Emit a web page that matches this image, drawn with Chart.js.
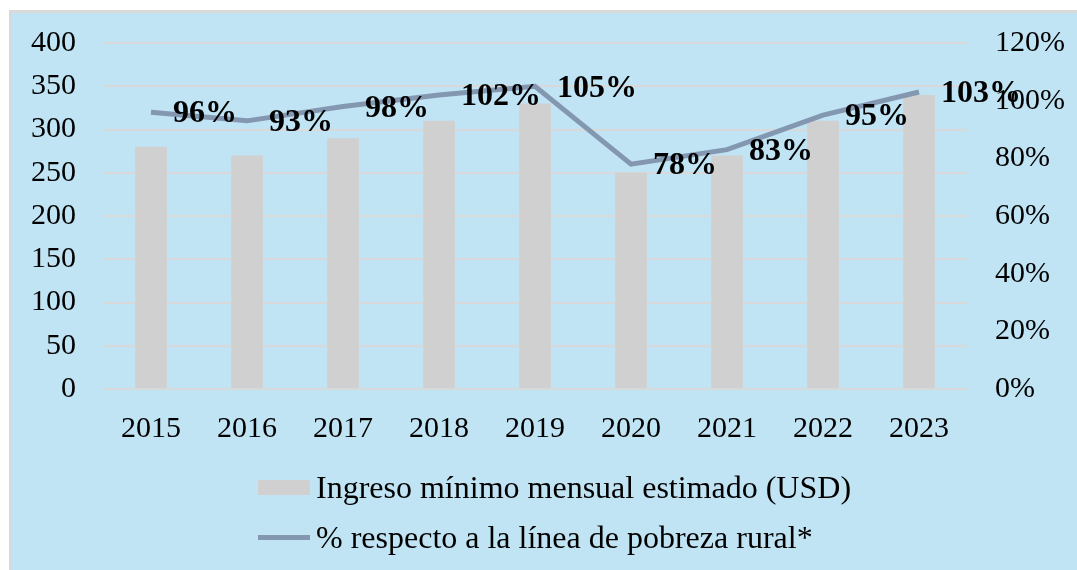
<!DOCTYPE html>
<html>
<head>
<meta charset="utf-8">
<script src="https://cdn.jsdelivr.net/npm/chart.js@4/dist/chart.umd.min.js"></script>
<style>
  html, body { margin: 0; padding: 0; background: #fff; }
  #frame {
    position: absolute; left: 9px; top: 10px;
    width: 1065px; height: 557px;
    background: #c0e4f4;
    border-left: 3px solid #d9d9d9; border-top: 3px solid #d9d9d9;
  }
  #chartBox { position: absolute; left: 0; top: 0; width: 1065px; height: 557px; }
  #legend {
    position: absolute; left: 246px; top: 449px;
    font-family: "Liberation Serif", "Times New Roman", serif; font-size: 32px; color: #000;
  }
  .item { display: flex; align-items: center; height: 50px; }
  .swatch { width: 52px; margin-right: 6px; }
  .bar-sw { height: 15px; background: #d0d0d0; }
  .line-sw { height: 5px; background: #8497b0; }
</style>
</head>
<body>
<div id="frame">
  <div id="chartBox"><canvas id="chart"></canvas></div>
  <div id="legend"></div>
</div>
<script>
  const years = ['2015', '2016', '2017', '2018', '2019', '2020', '2021', '2022', '2023'];
  const ingreso = [280, 270, 290, 310, 330, 250, 270, 310, 340];
  const pctPobreza = [96, 93, 98, 102, 105, 78, 83, 95, 103];
  const seriesNames = ['Ingreso mínimo mensual estimado (USD)', '% respecto a la línea de pobreza rural*'];

  const serif = '"Liberation Serif", "Times New Roman", serif';

  // draws the bold % labels to the right of each line point
  const pointLabels = {
    id: 'pointLabels',
    afterDatasetsDraw(chart) {
      const meta = chart.getDatasetMeta(1);
      const ctx = chart.ctx;
      ctx.save();
      ctx.font = 'bold 32px ' + serif;
      ctx.fillStyle = '#000';
      ctx.textAlign = 'left';
      ctx.textBaseline = 'middle';
      meta.data.forEach((pt, i) => {
        ctx.fillText(pctPobreza[i] + '%', pt.x + 22, pt.y + 2);
      });
      ctx.restore();
    }
  };

  // fixed axis sizes so the plot area lands where the original has it
  function fitY(width) {
    return s => { s.width = width; s.paddingTop = 0; s.paddingBottom = 0; };
  }

  const ctx = document.getElementById('chart').getContext('2d');
  new Chart(ctx, {
    data: {
      labels: years,
      datasets: [
        {
          type: 'bar',
          label: seriesNames[0],
          data: ingreso,
          backgroundColor: '#d0d0d0',
          categoryPercentage: 1,
          barPercentage: 0.33,
          yAxisID: 'y',
          order: 2
        },
        {
          type: 'line',
          label: seriesNames[1],
          data: pctPobreza,
          borderColor: '#8497b0',
          borderWidth: 5,
          pointRadius: 0,
          tension: 0,
          yAxisID: 'y1',
          order: 1
        }
      ]
    },
    options: {
      responsive: true,
      maintainAspectRatio: false,
      animation: false,
      layout: { padding: { top: 30, bottom: 117 } },
      plugins: {
        legend: { display: false },
        tooltip: { enabled: false }
      },
      scales: {
        x: {
          grid: { display: false },
          border: { display: false },
          ticks: { color: '#000', font: { family: serif, size: 30 }, padding: 14, maxRotation: 0 },
          afterFit(s) { s.height = 64; }
        },
        y: {
          position: 'left',
          min: 0, max: 400,
          ticks: { stepSize: 50, color: '#000', font: { family: serif, size: 30 }, padding: 27 },
          grid: { color: '#d9d9d9', lineWidth: 2, drawTicks: false },
          border: { display: false },
          afterFit: fitY(91)
        },
        y1: {
          position: 'right',
          min: 0, max: 120,
          ticks: { stepSize: 20, color: '#000', font: { family: serif, size: 30 }, padding: 28,
                   callback: v => v + '%' },
          grid: { display: false, drawTicks: false },
          border: { display: false },
          afterFit: fitY(110)
        }
      }
    },
    plugins: [pointLabels]
  });

  // legend, stacked like the original
  const legend = document.getElementById('legend');
  seriesNames.forEach((name, i) => {
    const row = document.createElement('div');
    row.className = 'item';
    row.innerHTML = '<div class="swatch ' + (i === 0 ? 'bar-sw' : 'line-sw') + '"></div><span>' + name + '</span>';
    legend.appendChild(row);
  });
</script>
</body>
</html>
